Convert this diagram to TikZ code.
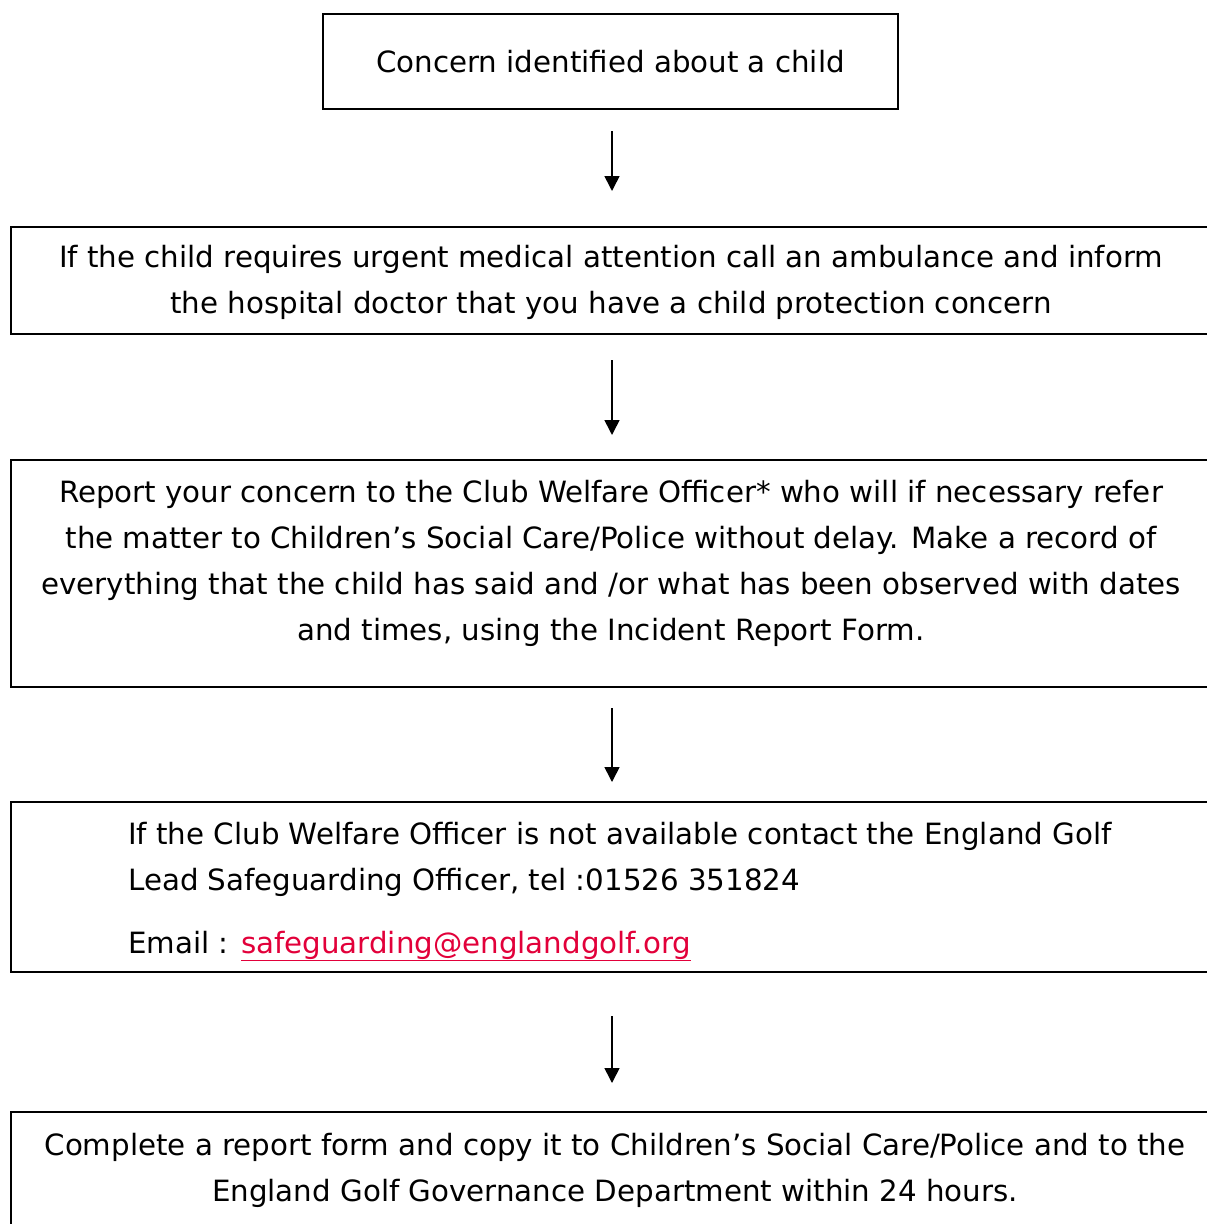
\documentclass[tikz,border=0pt]{standalone}
\usepackage{fontspec}
\setmainfont{DejaVu Sans}
\usetikzlibrary{arrows.meta}
\definecolor{linkred}{RGB}{226,0,58}
\tikzset{
  box/.style={draw=black, line width=2.6bp, rectangle, inner sep=0pt},
  txt/.style={font=\fontsize{29.3bp}{46bp}\selectfont, align=center, inner sep=0pt},
  arr/.style={line width=1.6bp, -{Triangle[length=15bp,width=15bp]}}
}
\begin{document}
\begin{tikzpicture}[x=1bp,y=-1bp]
\useasboundingbox (0,0) rectangle (1207,1224);
\clip (0,0) rectangle (1207,1224);
\fill[white] (0,0) rectangle (1207,1224);
% boxes
\node[box, minimum width=575bp, minimum height=95bp] (b1) at (610.5,61.5) {};
\node[box, minimum width=1204bp, minimum height=107bp] (b2) at (613,280.5) {};
\node[box, minimum width=1204bp, minimum height=227bp] (b3) at (613,573.5) {};
\node[box, minimum width=1204bp, minimum height=170bp] (b4) at (613,887) {};
\node[box, minimum width=1204bp, minimum height=140bp] (b5) at (613,1182) {};
% texts
\node[txt] (t1) at (b1.center) {Concern identified about a child};
\node[txt] (t2) at (611,282.5) {If the child requires urgent medical attention call an ambulance and inform\\the hospital doctor that you have a child protection concern};
\node[txt] (t3) at (611,563) {Report your concern to the Club Welfare Officer* who will if necessary refer\\the matter to Children’s Social Care/Police without delay. Make a record of\\everything that the child has said and /or what has been observed with dates\\and times, using the Incident Report Form.};
\node[txt, anchor=base west] (t4a) at (128,844) {If the Club Welfare Officer is not available contact the England Golf};
\node[txt, anchor=base west] (t4b) at (128,890) {Lead Safeguarding Officer, tel :01526 351824};
\node[txt, anchor=base west] (t4c) at (128,953) {Email : \textcolor{linkred}{\underline{safeguarding@englandgolf.org}}};
\node[txt] (t5) at (615,1170) {Complete a report form and copy it to Children’s Social Care/Police and to the\\England Golf Governance Department within 24 hours.};
% arrows
\coordinate (a1s) at (612,131); \coordinate (a1e) at (612,191);
\coordinate (a2s) at (612,360); \coordinate (a2e) at (612,435);
\coordinate (a3s) at (612,708); \coordinate (a3e) at (612,782);
\coordinate (a4s) at (612,1016); \coordinate (a4e) at (612,1083);
\draw[arr] (a1s) -- (a1e);
\draw[arr] (a2s) -- (a2e);
\draw[arr] (a3s) -- (a3e);
\draw[arr] (a4s) -- (a4e);
\end{tikzpicture}
\end{document}
